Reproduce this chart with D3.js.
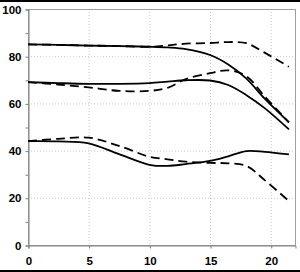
<!DOCTYPE html>
<html lang="en">
<head>
<meta charset="UTF-8">
<title>Chart</title>
<style>
  body { margin: 0; background: #fff; }
  svg { display: block; }
  .lbl { font-family: "Liberation Sans", Arial, sans-serif; font-weight: bold; font-size: 11.5px; fill: #000; }
</style>
</head>
<body>
<div id="chart"></div>
<script src="https://d3js.org/d3.v7.min.js"></script>
<script>
// x positions where values were read
const xs = [0, 2.5, 5, 7.5, 10, 11.5, 13, 15, 16.5, 18, 19.5, 21.5];

// three pairs of series (solid / dashed)
const topSolid   = [85, 84.8, 84.5, 84.3, 84, 83.7, 83, 80.5, 76.5, 70.5, 62, 52];
const topDashed  = [85, 84.8, 84.5, 84.3, 84, 84.6, 85.3, 85.6, 86, 85.5, 81.5, 75.5];
const midSolid   = [69, 68.6, 68.3, 68.3, 68.6, 69.2, 69.8, 69.7, 67.8, 63.5, 58, 49];
const midDashed  = [69, 68, 66.8, 65.3, 65.3, 66.6, 70.3, 72.8, 74, 71.5, 63, 52];
const lowSolid   = [44, 43.9, 43.1, 38.5, 34, 33.5, 34.3, 35.6, 37.6, 39.8, 39.5, 38.4];
const lowDashed  = [44, 45, 45.5, 42, 37.4, 36.3, 35.3, 34.8, 34.6, 33.5, 27.5, 18.6];

const xTicks = [0, 5, 10, 15, 20];
const yTicks = [0, 20, 40, 60, 80, 100];

const W = 300, H = 272;
const svg = d3.select("#chart").append("svg")
    .attr("width", W).attr("height", H);

// black bands top and bottom
svg.append("rect").attr("x", 0).attr("y", 0).attr("width", W).attr("height", 2).attr("fill", "#000");
svg.append("rect").attr("x", 0).attr("y", 270).attr("width", W).attr("height", 2).attr("fill", "#000");

const x = d3.scaleLinear().domain([0, 22]).range([28, 295]);
const y = d3.scaleLinear().domain([0, 100]).range([245, 9]);

// grid
svg.append("g").selectAll("line").data(xTicks.filter(d => d > 0)).enter().append("line")
    .attr("x1", d => x(d) + 0.5).attr("x2", d => x(d) + 0.5)
    .attr("y1", y(100)).attr("y2", y(0))
    .attr("stroke", "#c8c8c8").attr("stroke-dasharray", "1,2");
svg.append("g").selectAll("line").data(yTicks.filter(d => d > 0 && d < 100)).enter().append("line")
    .attr("x1", x(0)).attr("x2", x(22))
    .attr("y1", d => y(d) + 0.5).attr("y2", d => y(d) + 0.5)
    .attr("stroke", "#c8c8c8").attr("stroke-dasharray", "1,2");

// frame
svg.append("rect")
    .attr("x", x(0) + 0.5).attr("y", y(100) + 0.5)
    .attr("width", x(22) - x(0)).attr("height", y(0) - y(100))
    .attr("fill", "none").attr("stroke", "#a0a0a0");

// axes
const yAxis = d3.axisLeft(y).tickValues(d3.range(0, 101, 10)).tickSize(3).tickFormat(d => d % 20 === 0 ? d : "");
const gy = svg.append("g").attr("transform", `translate(${x(0) + 0.5},0.5)`).call(yAxis);
gy.select(".domain").attr("stroke", "#808080");
gy.selectAll(".tick line").attr("stroke", "#808080");
gy.selectAll(".tick text").attr("class", "lbl").attr("x", -7);

const xAxis = d3.axisBottom(x).tickValues(xTicks).tickSize(3).tickPadding(8);
const gx = svg.append("g").attr("transform", `translate(0.5,${y(0) + 0.5})`).call(xAxis);
gx.select(".domain").attr("stroke", "#808080");
gx.selectAll(".tick line").attr("stroke", "#808080");
gx.selectAll(".tick text").attr("class", "lbl");

// lines
const line = d3.line()
    .x((d, i) => x(xs[i]))
    .y(d => y(d))
    .curve(d3.curveCatmullRom.alpha(0.5));

const series = [
  { v: topSolid, dash: null },
  { v: topDashed, dash: "9,5" },
  { v: midSolid, dash: null },
  { v: midDashed, dash: "9,5" },
  { v: lowSolid, dash: null },
  { v: lowDashed, dash: "9,5" }
];

svg.append("g").selectAll("path").data(series).enter().append("path")
    .attr("d", d => line(d.v))
    .attr("fill", "none")
    .attr("stroke", "#000")
    .attr("stroke-width", 1.8)
    .attr("stroke-dasharray", d => d.dash);
</script>
</body>
</html>
